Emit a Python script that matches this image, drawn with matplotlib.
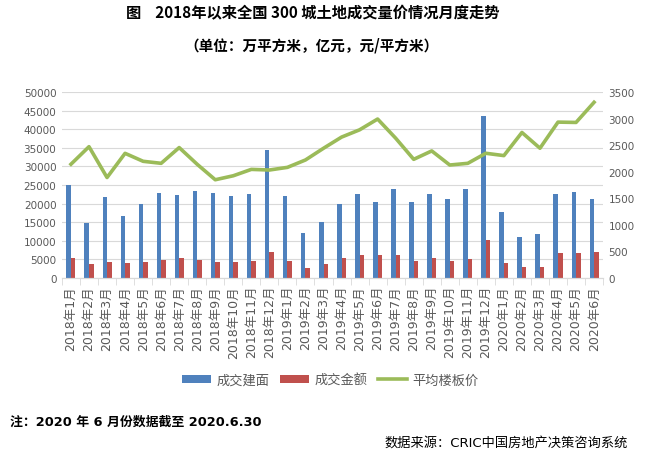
import numpy as np
import matplotlib
matplotlib.use('Agg')
from matplotlib import pyplot as plt

plt.rcParams['font.family'] = ['Noto Sans CJK SC', 'DejaVu Sans']
Latin = ['DejaVu Sans', 'Noto Sans CJK SC']

# Donnees
Mois = ['2018年%d月' % m for m in range(1, 13)] + ['2019年%d月' % m for m in range(1, 13)] \
    + ['2020年%d月' % m for m in range(1, 7)]
Jianmian = [25000, 14800, 21800, 16700, 19900, 22900, 22300, 23400, 22900, 22100, 22600, 34500,
            22100, 12100, 15000, 20000, 22700, 20500, 24000, 20500, 22700, 21350, 23800, 43500,
            17800, 11100, 11900, 22700, 23200, 21350]
Jine = [5400, 3700, 4200, 4000, 4200, 4800, 5400, 4800, 4200, 4200, 4500, 7000,
        4500, 2600, 3750, 5400, 6200, 6200, 6200, 4600, 5400, 4600, 5100, 10270,
        4050, 2970, 2970, 6760, 6760, 7030]
Prix = [2140, 2470, 1890, 2345, 2195, 2157, 2453, 2138, 1848, 1923, 2043, 2031,
        2081, 2220, 2440, 2650, 2787, 2990, 2630, 2232, 2390, 2125, 2157, 2346,
        2302, 2737, 2441, 2932, 2926, 3305]

Bleu = '#4F81BD'
Rouge = '#C0504D'
Vert = '#9BBB59'
Gris = '#595959'

fig = plt.figure(figsize=(6.52, 4.60), dpi=100)
ax = fig.add_axes([0.095, 0.3935, 0.83, 0.4045])
ax2 = ax.twinx()

x = np.arange(len(Mois))
L = 0.25
b1 = ax.bar(x - L/2, Jianmian, L, color=Bleu, label='成交建面')
b2 = ax.bar(x + L/2, Jine, L, color=Rouge, label='成交金额')
l1, = ax2.plot(x, Prix, color=Vert, linewidth=2.6, label='平均楼板价')

ax.set_xlim(-0.5, len(Mois) - 0.5)
ax.set_ylim(0, 50000)
ax.set_yticks(range(0, 50001, 5000))
ax2.set_ylim(0, 3500)
ax2.set_yticks(range(0, 3501, 500))
ax.yaxis.grid(True, color='#D9D9D9', linewidth=0.8)
ax.set_axisbelow(True)

for a in (ax, ax2):
    for s in ['top', 'left', 'right']:
        a.spines[s].set_visible(False)
    a.spines['bottom'].set_color('#D9D9D9')
    a.tick_params(axis='y', length=0, labelsize=7.5, colors=Gris, pad=4)
    for t in a.get_yticklabels():
        t.set_family(Latin)

ax.set_xticks(x)
ax.set_xticklabels(Mois, rotation=90, fontsize=9, color=Gris, family=Latin)
ax.tick_params(axis='x', length=0, pad=5)
ax.set_xticks(np.arange(-0.5, len(Mois)), minor=True)
ax.tick_params(axis='x', which='minor', length=5, color='#D9D9D9')

fig.legend(handles=[b1, b2, l1], loc='center', bbox_to_anchor=(0.507, 0.172), ncol=3,
           frameon=False, fontsize=9.5, handlelength=2.2, handleheight=0.6,
           columnspacing=0.8, handletextpad=0.4, labelcolor=Gris)

fig.text(0.48, 0.972, '图    2018年以来全国 300 城土地成交量价情况月度走势', ha='center', va='center',
         fontsize=11, fontweight='bold')
fig.text(0.478, 0.902, '（单位：万平方米，亿元，元/平方米）', ha='center', va='center',
         fontsize=10.5, fontweight='bold')
fig.text(0.015, 0.083, '注：2020 年 6 月份数据截至 2020.6.30', ha='left', va='center',
         fontsize=9.3, fontweight='bold', family=Latin)
fig.text(0.59, 0.037, '数据来源：CRIC中国房地产决策咨询系统', ha='left', va='center',
         fontsize=9.5, family=Latin)

fig.savefig('out.png', dpi=100)
